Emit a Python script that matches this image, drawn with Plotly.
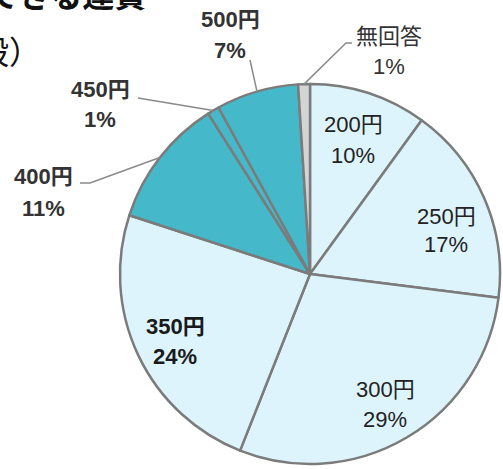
import math
import plotly.graph_objects as go

# ---- data ----
categories = ["200円", "250円", "300円", "350円", "400円", "450円", "500円", "無回答"]
values = [10, 17, 29, 24, 11, 1, 7, 1]
title_line1 = "許容できる運賃"
title_line2 = "（一般）"

W, H = 503, 469
CX, CY, R = 310, 274, 190

colors = ["#DDF4FC", "#DDF4FC", "#DDF4FC", "#DDF4FC",
          "#45B9C9", "#45B9C9", "#45B9C9", "#D4D4D4"]

def px(x):
    return x / W

def py(y):
    return 1 - y / H

fig = go.Figure()
fig.add_trace(go.Pie(
    labels=categories, values=values, sort=False, direction="clockwise",
    rotation=0, textinfo="none", hoverinfo="label+percent",
    marker=dict(colors=colors, line=dict(color="#7B7B7B", width=2.5)),
    domain=dict(x=[px(CX - R), px(CX + R)], y=[py(CY + R), py(CY - R)]),
    showlegend=False,
))

FONT = "Liberation Sans, Arial, Noto Sans CJK JP, sans-serif"

# mid angles from data (clockwise from 12 o'clock)
total = sum(values)
mids = []
cum = 0
for v in values:
    mids.append((cum + v / 2) / total * 360)
    cum += v

def edge(i):
    a = math.radians(mids[i])
    return CX + R * math.sin(a), CY - R * math.cos(a)

# label layout: (x center, name y, pct y, bold, color)
label_pos = {
    0: (353, 125, 155, False, "#222222"),
    1: (446, 216, 245, False, "#222222"),
    2: (385, 389, 419, False, "#222222"),
    3: (175, 326, 356, True, "#1a1a1a"),
    4: (43, 176, 208, True, "#333333"),
    5: (100, 90, 119, True, "#333333"),
    6: (230, 19, 51, True, "#333333"),
    7: (389, 36, 66, False, "#333333"),
}

annotations = []
for i, (x, y1, y2, bold, col) in label_pos.items():
    for txt, yy in ((categories[i], y1), (f"{values[i]}%", y2)):
        t = f"<b>{txt}</b>" if bold else txt
        annotations.append(dict(
            x=px(x), y=py(yy), xref="paper", yref="paper", text=t,
            showarrow=False, xanchor="center", yanchor="middle",
            font=dict(family=FONT, size=22, color=col),
        ))

# title (partially cut off at the top-left, as in the reference)
annotations.append(dict(
    x=px(148), y=py(-7), xref="paper", yref="paper", text=f"<b>{title_line1}</b>",
    showarrow=False, xanchor="right", yanchor="middle",
    font=dict(family="Noto Sans CJK JP, sans-serif", size=32, color="#111111"),
))
annotations.append(dict(
    x=px(43), y=py(50), xref="paper", yref="paper", text=title_line2,
    showarrow=False, xanchor="right", yanchor="middle",
    font=dict(family="Noto Sans CJK JP, sans-serif", size=32, color="#111111"),
))

# leader lines: label side points (layout) -> slice edge at mid angle (data)
leader_start = {
    4: [(80, 183), (90, 183)],
    5: [(138, 98)],
    6: [(250, 60)],
    7: [(352, 43), (346, 43)],
}
shapes = []
for i, pts in leader_start.items():
    ex, ey = edge(i)
    allpts = pts + [(ex, ey)]
    path = "M " + " L ".join(f"{px(a):.5f},{py(b):.5f}" for a, b in allpts)
    shapes.append(dict(type="path", path=path, xref="paper", yref="paper",
                       line=dict(color="#8A8A8A", width=1.5)))

fig.update_layout(
    width=W, height=H, margin=dict(l=0, r=0, t=0, b=0),
    paper_bgcolor="white", plot_bgcolor="white",
    annotations=annotations, shapes=shapes, showlegend=False,
)

fig.write_html(
    "out.html",
    config={"displayModeBar": False},
    post_script="document.body.style.margin='0';document.body.style.overflow='hidden';",
)
